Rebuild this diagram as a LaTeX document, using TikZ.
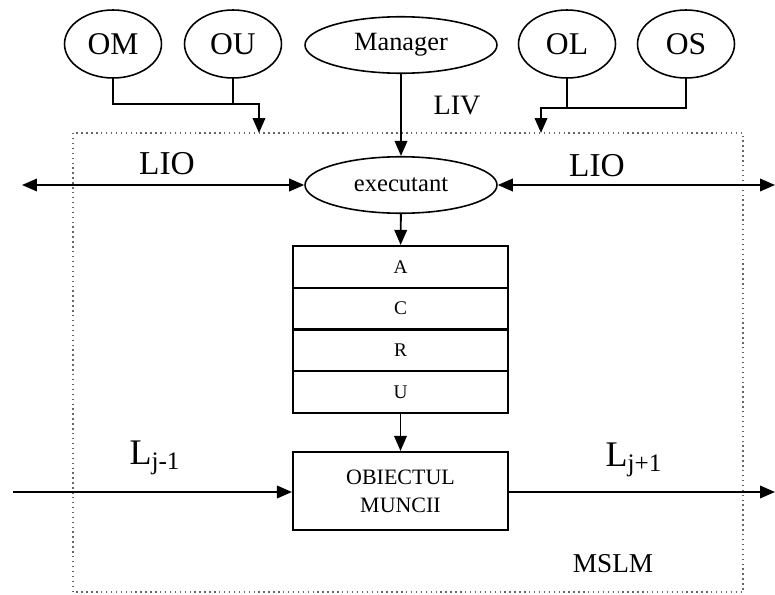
\documentclass[tikz,border=0pt]{standalone}
\usepackage{fontspec}
\setmainfont{Liberation Serif}
\usetikzlibrary{shapes.geometric,arrows.meta}

\tikzset{
  oval/.style={draw,ellipse,inner sep=0pt,line width=0.9pt},
  small oval/.style={oval,minimum width=1.94cm,minimum height=1.36cm,font=\fontsize{18}{20}\selectfont},
  wide oval/.style={oval,minimum width=3.84cm,minimum height=1.13cm},
  cell/.style={draw,rectangle,line width=1.2pt,minimum width=4.3cm,minimum height=0.835cm,inner sep=0pt,font=\fontsize{11}{12}\selectfont},
  flow/.style={line width=1.1pt,-{Triangle[length=0.3cm,width=0.25cm]}},
  flows/.style={line width=1.1pt,{Triangle[length=0.3cm,width=0.25cm]}-{Triangle[length=0.3cm,width=0.25cm]}},
  lbl/.style={inner sep=0pt}
}

\begin{document}
\begin{tikzpicture}[x=0.02cm,y=-0.02cm]
\useasboundingbox (0,0) rectangle (775,595);
% system border
\draw[black!60,dotted,line width=0.8pt] (73,133) rectangle (743,592);
\node[lbl,font=\fontsize{15.5}{17}\selectfont] (mslm) at (613,564) {MSLM};

% upper level
\node[small oval] (om) at (113,44) {OM};
\node[small oval] (ou) at (233,44) {OU};
\node[wide oval,font=\fontsize{15}{17}\selectfont] (manager) at (401,45) {Manager};
\node[small oval] (ol) at (567,44) {OL};
\node[small oval] (os) at (686,44) {OS};
\node[lbl,font=\fontsize{16}{18}\selectfont] (liv) at (457,106) {LIV};

\coordinate (jl) at (259,104);
\coordinate (tl) at (259,133);
\coordinate (jr) at (541,108);
\coordinate (tr) at (541,133);
\draw[flow] (om.south) |- (jl) -- (tl);
\draw[line width=1.1pt] (ou.south) -- (ou.south |- jl);
\draw[flow] (os.south) |- (jr) -- (tr);
\draw[line width=1.1pt] (ol.south) -- (ol.south |- jr);

% executant and links
\node[wide oval,font=\fontsize{14}{16}\selectfont] (exec) at (401,185) {executant};
\draw[flow] (manager) -- (exec);
\coordinate (lio-l) at (22,185);
\coordinate (lio-r) at (775,185);
\draw[flows] (lio-l) -- (exec.west);
\draw[flows] (exec.east) -- (lio-r);
\node[lbl,font=\fontsize{19}{21}\selectfont] (liol) at (167,164) {LIO};
\node[lbl,font=\fontsize{19}{21}\selectfont] (lior) at (597,166) {LIO};

% stack of boxes
\foreach \l [count=\i] in {A,C,R,U}
  \node[cell] (r\i) at (400.5,{246+41.75*(\i-0.5)}) {\l};
\draw[flow] (exec) -- (r1);

\node[cell,minimum height=1.56cm,align=center,font=\fontsize{12.5}{16}\selectfont] (obj) at (400.5,491) {OBIECTUL\\MUNCII};
\draw[flow] (r4) -- (obj);

% horizontal flow
\coordinate (in) at (13,492);
\coordinate (out) at (775,492);
\draw[flow] (in) -- (obj.west |- in);
\draw[flow] (obj.east |- out) -- (out);
\node[lbl,font=\fontsize{20.5}{22}\selectfont] (lprev) at (155,458) {L\textsubscript{j-1}};
\node[lbl,font=\fontsize{20.5}{22}\selectfont] (lnext) at (634,460) {L\textsubscript{j+1}};
\end{tikzpicture}
\end{document}
